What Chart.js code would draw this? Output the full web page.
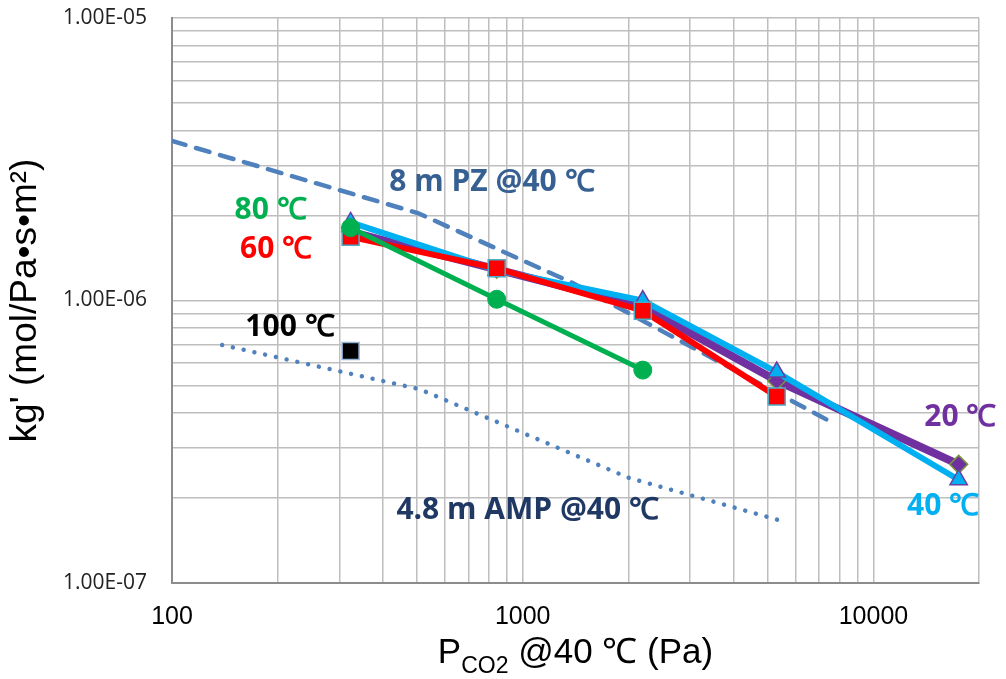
<!DOCTYPE html>
<html>
<head>
<meta charset="utf-8">
<script src="https://cdn.jsdelivr.net/npm/chart.js@4.4.1/dist/chart.umd.min.js"></script>
<style>
    body { margin: 0; background: #fff; }
    #wrap { width: 1006px; height: 679px; }
</style>
</head>
<body>
<div id="wrap"><canvas id="chart"></canvas></div>
<script>
// measured points: CO2 partial pressure (Pa)
const pco2 = [323, 843, 2200, 5300, 17500]
// kg' (mol/Pa.s.m2) per temperature
const kg20 = [1.75e-6, 1.29e-6, 9.5e-7, 5.2e-7, 2.63e-7]
const kg40 = [1.89e-6, 1.28e-6, 1.0e-6, 5.58e-7, 2.32e-7]
const kg60 = [1.68e-6, 1.30e-6, 9.2e-7, 4.57e-7]
const kg80 = [1.81e-6, 1.01e-6, 5.67e-7]
const kg100 = [6.62e-7]

// reference curves @40 C
const pzX = [100, 502, 1388, 7745]
const pzY = [3.67e-6, 2.04e-6, 1.153e-6, 3.66e-7]
const ampX = [139, 509, 2000, 5370]
const ampY = [6.96e-7, 4.85e-7, 2.36e-7, 1.67e-7]

// axis ticks
const xLabelTicks = [100, 1000, 10000]
const xTickText = ['100', '1000', '10000']
const yLabelTicks = [1e-7, 1e-6, 1e-5]
const yTickText = ['1.00E-07', '1.00E-06', '1.00E-05']

// text placed on the plot (anchored in data units)
const notes = [
    { text: '8 m PZ @40 ℃', x: 817, y: 2.61e-6, color: '#376092' },
    { text: '80 ℃', x: 191, y: 2.09e-6, color: '#00B050' },
    { text: '60 ℃', x: 198, y: 1.51e-6, color: '#FF0000' },
    { text: '100 ℃', x: 217, y: 8.0e-7, color: '#000000' },
    { text: '4.8 m AMP @40 ℃', x: 1033, y: 1.81e-7, color: '#1F3864' },
    { text: '20 ℃', x: 17700, y: 3.84e-7, color: '#7030A0' },
    { text: '40 ℃', x: 15800, y: 1.86e-7, color: '#00B0F0' }
]

function pairs(xs, ys) {
    const out = []
    for (let i = 0; i < ys.length; i++) out.push({ x: xs[i], y: ys[i] })
    return out
}

// gridlines at every 1..9 x 10^n
function logGrid(min, max) {
    const v = []
    for (let e = Math.floor(Math.log10(min)); e <= Math.ceil(Math.log10(max)); e++) {
        for (let m = 1; m <= 9; m++) {
            const t = m * Math.pow(10, e)
            if (t >= min * 0.999 && t <= max * 1.001) v.push(t)
        }
    }
    return v
}

function isNear(a, list) {
    return list.findIndex(function (b) { return Math.abs(a / b - 1) < 1e-6 })
}

// no extra room for edge labels, the plot box is fixed
function noEdgePadding(s) {
    s.paddingTop = 0
    s.paddingBottom = 0
    s.paddingLeft = 0
    s.paddingRight = 0
}

const notePlugin = {
    id: 'notes',
    afterDatasetsDraw(chart) {
        const ctx = chart.ctx
        const xs = chart.scales.x, ys = chart.scales.y
        ctx.save()
        ctx.textAlign = 'center'
        ctx.textBaseline = 'middle'
        ctx.font = 'bold 30px "Open Sans", sans-serif'
        notes.forEach(function (n) {
            ctx.fillStyle = n.color
            ctx.fillText(n.text, xs.getPixelForValue(n.x), ys.getPixelForValue(n.y))
        })
        ctx.restore()
    },
    afterDraw(chart) {
        // x axis title with subscript
        const ctx = chart.ctx
        const area = chart.chartArea
        const big = '35px "Liberation Sans", Arial, sans-serif'
        const small = '23px "Liberation Sans", Arial, sans-serif'
        ctx.save()
        ctx.fillStyle = '#000'
        ctx.textBaseline = 'alphabetic'
        ctx.textAlign = 'left'
        ctx.font = big
        const w1 = ctx.measureText('P').width
        const w3 = ctx.measureText(' @40 ℃ (Pa)').width
        ctx.font = small
        const w2 = ctx.measureText('CO2').width
        let x = (area.left + area.right) / 2 - (w1 + w2 + w3) / 2
        ctx.font = big
        ctx.fillText('P', x, 663)
        x += w1
        ctx.font = small
        ctx.fillText('CO2', x, 673)
        x += w2
        ctx.font = big
        ctx.fillText(' @40 ℃ (Pa)', x, 663)
        ctx.restore()
    }
}

const ctx = document.getElementById('chart').getContext('2d')
new Chart(ctx, {
    type: 'scatter',
    data: {
        datasets: [
            {
                label: '80 ℃', data: pairs(pco2, kg80), showLine: true, order: 1,
                borderColor: '#00B050', backgroundColor: '#00B050', borderWidth: 5,
                pointStyle: 'circle', pointRadius: 9, pointBorderWidth: 1
            },
            {
                label: '60 ℃', data: pairs(pco2, kg60), showLine: true, order: 2,
                borderColor: '#FF0000', backgroundColor: '#FF0000', borderWidth: 6,
                pointStyle: 'rect', pointRadius: 12, pointBorderWidth: 1.5, pointBorderColor: '#4BACC6'
            },
            {
                label: '100 ℃', data: pairs(pco2, kg100), showLine: false, order: 3,
                backgroundColor: '#000000', pointStyle: 'rect', pointRadius: 12,
                pointBorderWidth: 1.5, pointBorderColor: '#95B3D7'
            },
            {
                label: '40 ℃', data: pairs(pco2, kg40), showLine: true, order: 4,
                borderColor: '#00B0F0', backgroundColor: '#00B0F0', borderWidth: 6,
                pointStyle: 'triangle', pointRadius: 10, pointBorderWidth: 1.5, pointBorderColor: '#6A3FA0'
            },
            {
                label: '20 ℃', data: pairs(pco2, kg20), showLine: true, order: 5,
                borderColor: '#7030A0', backgroundColor: '#7030A0', borderWidth: 8,
                pointStyle: 'rectRot', pointRadius: 9, pointBorderWidth: 1.5, pointBorderColor: '#77933C'
            },
            {
                label: '8 m PZ', data: pairs(pzX, pzY), showLine: true, order: 6,
                borderColor: '#4F81BD', borderWidth: 4.5, borderDash: [14, 11], borderCapStyle: 'round',
                pointRadius: 0
            },
            {
                label: '4.8 m AMP', data: pairs(ampX, ampY), showLine: true, order: 7,
                borderColor: '#4F81BD', borderWidth: 4.5, borderDash: [0.01, 11], borderCapStyle: 'round',
                pointRadius: 0
            }
        ]
    },
    options: {
        responsive: true,
        maintainAspectRatio: false,
        animation: false,
        layout: { padding: { top: 18, right: 27, left: 0, bottom: 0 } },
        plugins: { legend: { display: false }, tooltip: { enabled: false } },
        scales: {
            x: {
                type: 'logarithmic', min: 100, max: 20000,
                afterFit: function (s) { s.height = 96; noEdgePadding(s) },
                afterBuildTicks: function (s) {
                    s.ticks = logGrid(100, 20000).map(function (v) { return { value: v } })
                },
                grid: { color: '#BEBEBE', lineWidth: 1.5, drawTicks: false },
                border: { color: '#8C8C8C', width: 2 },
                ticks: {
                    autoSkip: false, maxRotation: 0, padding: 19, color: '#000',
                    font: { family: '"Liberation Sans Narrow", "Liberation Sans", Arial', size: 25 },
                    callback: function (v) {
                        const i = isNear(v, xLabelTicks)
                        return i >= 0 ? xTickText[i] : ''
                    }
                }
            },
            y: {
                type: 'logarithmic', min: 1e-7, max: 1e-5,
                afterFit: function (s) { s.width = 172; noEdgePadding(s) },
                afterBuildTicks: function (s) {
                    s.ticks = logGrid(1e-7, 1e-5).map(function (v) { return { value: v } })
                },
                grid: { color: '#BEBEBE', lineWidth: 1.5, drawTicks: false },
                border: { color: '#8C8C8C', width: 2 },
                title: {
                    display: true, text: "kg' (mol/Pa•s•m²)", color: '#000',
                    font: { family: '"Liberation Sans", Arial', size: 37 },
                    padding: { top: 4, bottom: 0 }
                },
                ticks: {
                    autoSkip: false, padding: 25, color: '#222',
                    font: { family: '"Open Sans"', size: 21 },
                    callback: function (v) {
                        const i = isNear(v, yLabelTicks)
                        return i >= 0 ? yTickText[i] : ''
                    }
                }
            }
        }
    },
    plugins: [notePlugin]
})
</script>
</body>
</html>
